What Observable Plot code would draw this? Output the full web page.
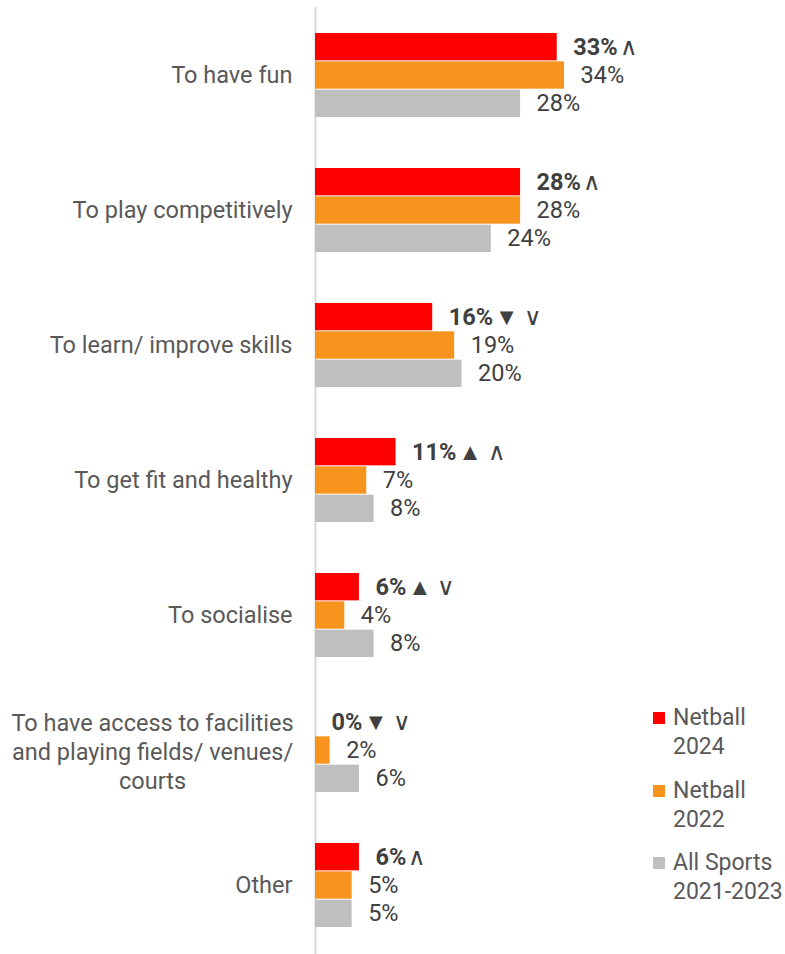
<!DOCTYPE html>
<html>
<head>
<meta charset="utf-8">
<script src="https://cdn.jsdelivr.net/npm/d3@7"></script>
<script src="https://cdn.jsdelivr.net/npm/@observablehq/plot@0.6"></script>
<style>
  html, body { margin: 0; padding: 0; background: #fff; }
  #wrap { position: relative; width: 785px; height: 954px; font-family: Roboto, "Noto Sans", sans-serif; }
  #legend { position: absolute; left: 653px; top: 703px; color: #595959; font-size: 23px; line-height: 29px; }
  .item { position: relative; padding-left: 20px; margin-bottom: 14.5px; }
  .sw { position: absolute; left: 0; top: 9px; width: 12px; height: 12px; }
</style>
</head>
<body>
<div id="wrap"><div id="legend"></div></div>
<script>
const categories = [
  "To have fun",
  "To play competitively",
  "To learn/ improve skills",
  "To get fit and healthy",
  "To socialise",
  "To have access to facilities and playing fields/ venues/ courts",
  "Other"
];
const categoryLabels = [
  "To have fun",
  "To play competitively",
  "To learn/ improve skills",
  "To get fit and healthy",
  "To socialise",
  "To have access to facilities\nand playing fields/ venues/\ncourts",
  "Other"
];
const seriesNames = ["Netball\n2024", "Netball\n2022", "All Sports\n2021-2023"];
const netball2024 = [33, 28, 16, 11, 6, 0, 6];
const netball2022 = [34, 28, 19, 7, 4, 2, 5];
const allSports = [28, 24, 20, 8, 8, 6, 5];
const markers2024 = ["∧", "∧", "▼ ∨", "▲ ∧", "▲ ∨", "▼ ∨", "∧"];
const colors = ["#FF0000", "#F7941D", "#BFBFBF"];

const W = 785, H = 954, mTop = 7, mBottom = 0, mLeft = 315, mRight = 177;
const padIn = 0.375, padOut = 0.17;
const step = (H - mTop - mBottom) / (categories.length - padIn + 2 * padOut);
const bw = step * (1 - padIn);
const sub = bw / 3;
const font = "Roboto";
const fs = 23.5;

const seriesValues = [netball2024, netball2022, allSports];
const rows = seriesValues.map(vals => categories.map((c, i) => ({cat: c, value: vals[i], marker: markers2024[i]})));

const ctx = document.createElement("canvas").getContext("2d");
ctx.font = `bold ${fs}px ${font}`;
const labelFmt = v => `${v}%`;

const marks = [Plot.ruleX([0], {stroke: "#d9d9d9", strokeWidth: 2})];
rows.forEach((data, s) => {
  marks.push(Plot.barX(data, {
    x: "value", y: "cat", fill: colors[s],
    insetTop: s * sub, insetBottom: (2 - s) * sub
  }));
  marks.push(Plot.text(data, {
    x: "value", y: "cat", text: d => labelFmt(d.value),
    dx: 16, dy: (s - 1) * sub, textAnchor: "start",
    fill: "#404040", fontSize: fs, fontWeight: s === 0 ? "bold" : "normal"
  }));
});
rows[0].forEach(d => {
  const w = ctx.measureText(labelFmt(d.value)).width;
  marks.push(Plot.text([d], {
    x: "value", y: "cat", text: "marker",
    dx: 16 + w + 2, dy: -sub, textAnchor: "start",
    fill: "#404040", fontSize: fs
  }));
});
const longCat = categories[5];
marks.push(Plot.axisY(categories.filter(c => c !== longCat), {
  tickSize: 0, tickPadding: 23, textAnchor: "end", fontSize: fs, fill: "#595959",
  tickFormat: c => categoryLabels[categories.indexOf(c)], label: null
}));
marks.push(Plot.axisY([longCat], {
  tickSize: 0, tickPadding: 163, textAnchor: "middle", fontSize: fs, fill: "#595959",
  lineHeight: 29 / fs,
  tickFormat: c => categoryLabels[categories.indexOf(c)], label: null
}));

const chart = Plot.plot({
  width: W, height: H,
  marginTop: mTop, marginBottom: mBottom, marginLeft: mLeft, marginRight: mRight,
  style: {fontFamily: font, fontSize: fs + "px", background: "transparent"},
  x: {domain: [0, 40], axis: null},
  y: {domain: categories, padding: padIn, paddingOuter: padOut, axis: null},
  marks
});
document.getElementById("wrap").prepend(chart);

const legend = document.getElementById("legend");
seriesNames.forEach((n, s) => {
  const item = document.createElement("div");
  item.className = "item";
  const sw = document.createElement("span");
  sw.className = "sw";
  sw.style.background = colors[s];
  item.appendChild(sw);
  n.split("\n").forEach(line => {
    const l = document.createElement("div");
    l.textContent = line;
    item.appendChild(l);
  });
  legend.appendChild(item);
});
</script>
</body>
</html>
